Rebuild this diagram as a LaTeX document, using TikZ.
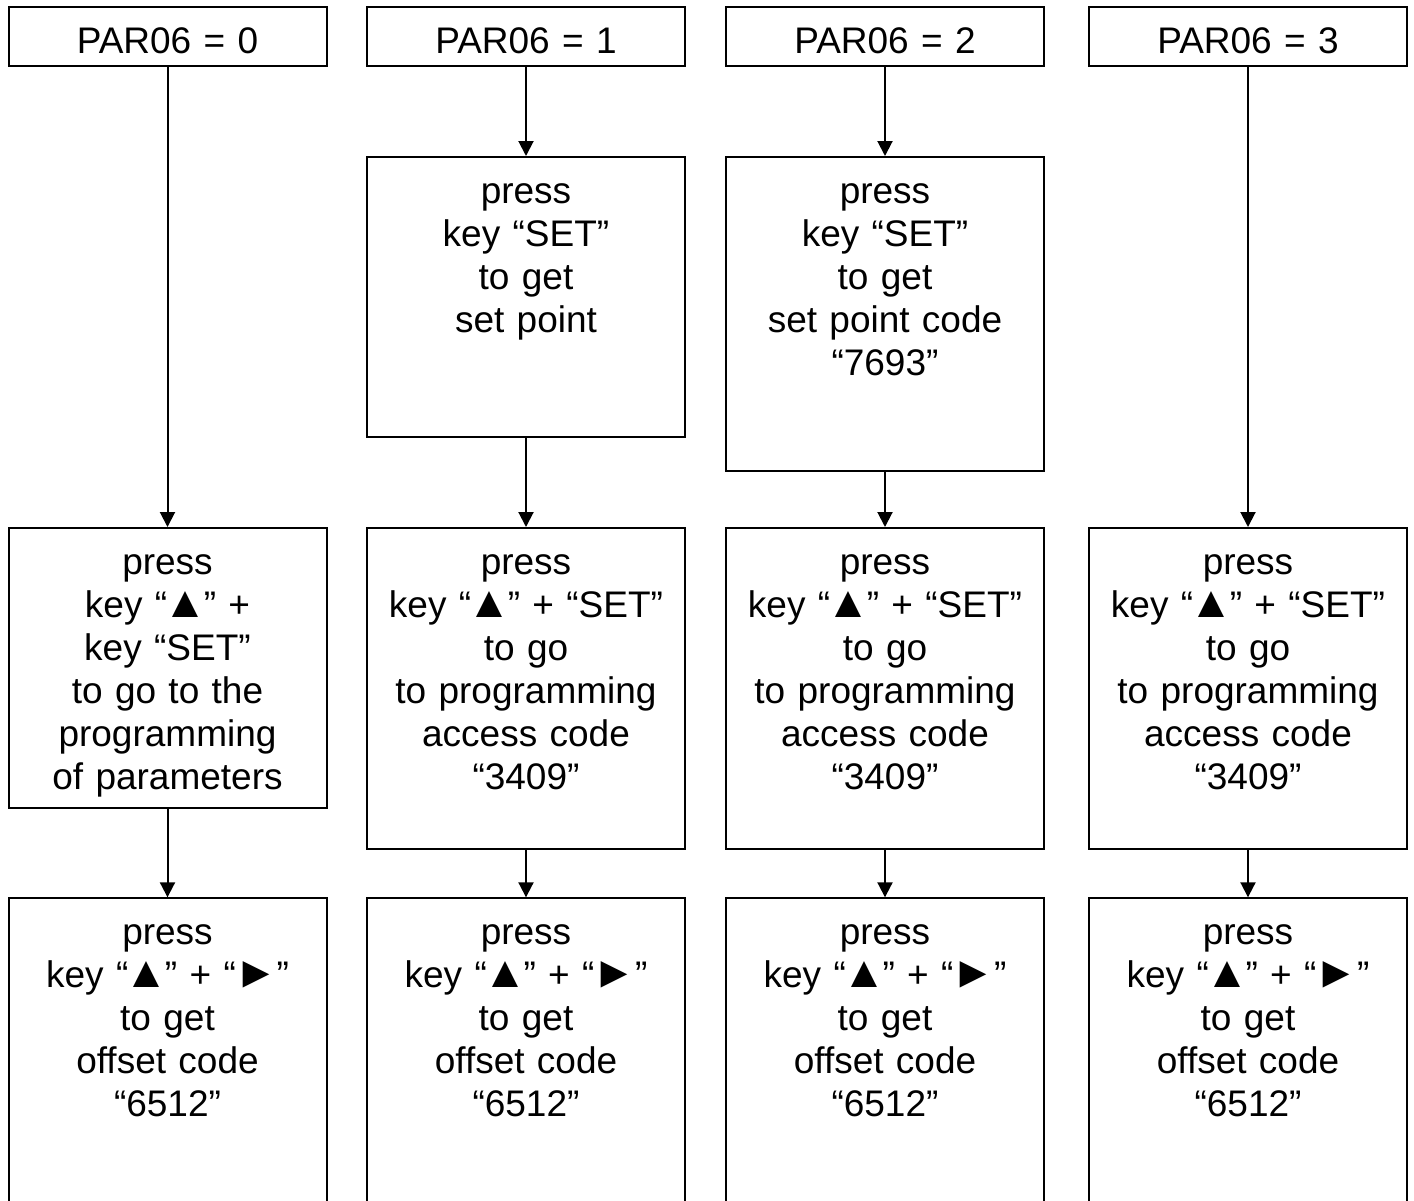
\documentclass[tikz,border=0pt]{standalone}
\usepackage{fontspec}
\usepackage{graphicx}
\setmainfont{Liberation Sans}
\usetikzlibrary{arrows.meta}
\newsavebox\keybox
\newcommand\keyglyph[3]{\sbox\keybox{#2}\makebox[\dimexpr\wd\keybox+#3\relax]{\scalebox{#1}{#2}}}
\newcommand\upkey{\keyglyph{1.2}{▲}{0pt}}
\newcommand\rightkey{\keyglyph{1.2}{►}{2pt}}
\begin{document}
\begin{tikzpicture}[x=0.5pt, y=-0.5pt, line width=1pt,
		box/.style={draw, anchor=north, inner xsep=0pt, inner ysep=0pt,
			text width=159pt, align=center, text height=23.25pt,
			font=\fontsize{18.5}{21.5}\selectfont},
		flow/.style={-{Triangle[length=7.5pt, width=7.5pt]}}]
		\useasboundingbox (0,0) rectangle (1414,1200);
		% headers
		\node[box, text depth=6.5pt] (par0) at (167.5, 5.5) {PAR06 = 0};
		\node[box, text depth=6.5pt] (par1) at (526, 5.5) {PAR06 = 1};
		\node[box, text depth=6.5pt] (par2) at (885, 5.5) {PAR06 = 2};
		\node[box, text depth=6.5pt] (par3) at (1248, 5.5) {PAR06 = 3};
		% set point
		\node[box, text depth=116.75pt] (set1) at (526, 156)
			{press\\key “SET”\\to get\\set point};
		\node[box, text depth=133.75pt] (set2) at (885, 156)
			{press\\key “SET”\\to get\\set point code\\“7693”};
		% programming
		\node[box, text depth=116.5pt] (prog0) at (167.5, 527)
			{press\\key “\upkey” +\\key “SET”\\to go to the\\programming\\of parameters};
		\node[box, text depth=137.4pt] (prog1) at (526, 527)
			{press\\key “\upkey” + “SET”\\to go\\to programming\\access code\\“3409”};
		\node[box, text depth=137.4pt] (prog2) at (885, 527)
			{press\\key “\upkey” + “SET”\\to go\\to programming\\access code\\“3409”};
		\node[box, text depth=137.4pt] (prog3) at (1248, 527)
			{press\\key “\upkey” + “SET”\\to go\\to programming\\access code\\“3409”};
		% offset
		\node[box, text depth=141.75pt] (offs0) at (167.5, 897.3)
			{press\\key “\upkey” + “\rightkey”\\to get\\offset code\\“6512”};
		\node[box, text depth=141.75pt] (offs1) at (526, 897.3)
			{press\\key “\upkey” + “\rightkey”\\to get\\offset code\\“6512”};
		\node[box, text depth=141.75pt] (offs2) at (885, 897.3)
			{press\\key “\upkey” + “\rightkey”\\to get\\offset code\\“6512”};
		\node[box, text depth=141.75pt] (offs3) at (1248, 897.3)
			{press\\key “\upkey” + “\rightkey”\\to get\\offset code\\“6512”};
		% arrows
		\draw[flow] (par0) -- (prog0);
		\draw[flow] (par1) -- (set1);
		\draw[flow] (set1) -- (prog1);
		\draw[flow] (par2) -- (set2);
		\draw[flow] (set2) -- (prog2);
		\draw[flow] (par3) -- (prog3);
		\foreach \c in {0,...,3}
			\draw[flow] (prog\c) -- (offs\c);
	\end{tikzpicture}
\end{document}
